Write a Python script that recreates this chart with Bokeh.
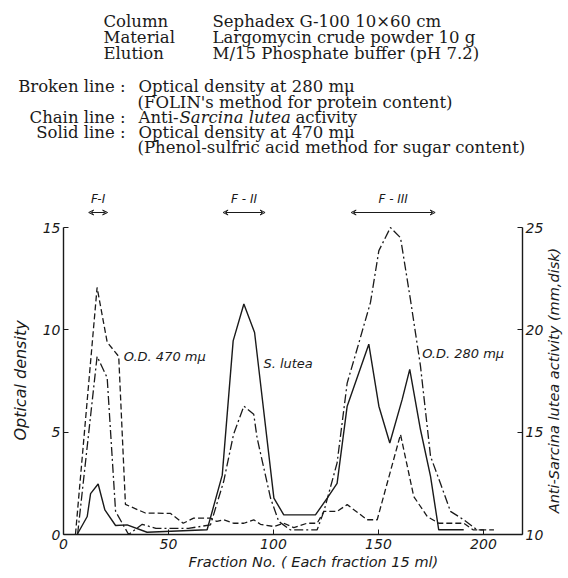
import math
from bokeh.plotting import figure
from bokeh.layouts import column, row
from bokeh.models import Range1d, LinearAxis, FixedTicker, Arrow, VeeHead, Title
from bokeh.core.properties import value
from bokeh.embed import file_html
from bokeh.resources import INLINE

# ---- data ----
# Broken line: optical density at 280 mu (left axis)
od280_x = [5.7, 16, 20.8, 26.3, 29.5, 39, 51, 57, 62, 70, 73, 76.3, 81, 85.9, 90.6, 93.8,
           100.2, 104.9, 109.7, 116, 120.8, 124, 130.3, 135.1, 144.6, 149.4, 160.5, 166.8,
           173.2, 178.7, 190.6, 195, 205]
od280_y = [0, 12.07, 9.4, 8.7, 1.47, 1.05, 1.03, 0.55, 0.8, 0.8, 0.64, 0.72, 0.55, 0.55, 0.72, 0.5,
           0.39, 0.55, 0.34, 0.55, 0.55, 1.13, 1.13, 1.46, 0.72, 0.72, 4.89, 1.86,
           0.88, 0.55, 0.55, 0.23, 0.23]

# Chain line: anti-Sarcina lutea activity, mm disk (right axis)
act_x = [6.7, 16, 20.8, 24.8, 31, 37.5, 44, 59.5, 70, 76.3, 81, 85.9, 90.6, 92.2, 98.6, 102.5,
         108, 120.8, 124, 130.3, 135.1, 139.8, 146.2, 150.2, 155.7, 160.5, 165.2, 170, 174.8,
         179.5, 184.3, 190.6, 197, 200]
act_mm = [10.0, 18.7, 17.66, 11.13, 10.0, 10.5, 10.3, 10.3, 10.47, 12.6, 14.9, 16.27, 15.87, 14.72,
          11.78, 10.64, 10.23, 10.23, 11.13, 13.5, 17.4, 19.05, 21.34, 23.87, 25.0, 24.5, 21.5,
          18.24, 13.82, 12.5, 11.13, 10.72, 10.23, 10.23]

# Solid line: optical density at 470 mu (left axis)
od470_x = [6.5, 11.3, 12.9, 16.5, 19.7, 24.8, 30.3, 39.8, 68.4, 75.6, 80.8, 85.9, 91, 100.2, 104.9,
           120, 125.6, 130.3, 135.1, 145.4, 150.2, 155.4, 161.3, 164.9, 170, 174.8, 178.7, 190.6]
od470_y = [0, 0.88, 2.0, 2.47, 1.2, 0.44, 0.47, 0.11, 0.23, 2.9, 9.46, 11.26, 9.87, 1.78, 0.96,
           0.96, 1.78, 2.5, 6.27, 9.3, 6.27, 4.47, 6.6, 8.07, 5.13, 2.84, 0.23, 0.23]

# fractions pooled
frac_names = ["F-I", "F - II", "F - III"]
frac_start = [12, 76, 137]
frac_end = [21, 96, 177]

x_ticks = [0, 50, 100, 150, 200]
od_ticks = [0, 5, 10, 15]
act_ticks = [10, 15, 20, 25]

# ---- styles ----
INK = "#1a1a1a"
SERIF = "DejaVu Serif"
SANS = "DejaVu Sans"
HFS = "16.5px"

def bare(fig):
    fig.axis.visible = False
    fig.grid.visible = False
    fig.outline_line_color = None
    fig.background_fill_color = "white"
    fig.border_fill_color = "white"

# ---------- header ----------
hdr = figure(width=568, height=178, x_range=Range1d(0, 568), y_range=Range1d(178, 0),
             min_border=0, output_backend="svg", toolbar_location=None)
bare(hdr)

def head(text, px, py, align="left", style="normal"):
    hdr.text(x=[px], y=[py], text=[text], text_font=value(SERIF),
             text_font_size=HFS, text_font_style=style, text_color=INK,
             text_align=align, text_baseline="middle")

head("Column", 103, 21)
head("Sephadex G-100 10\u00d760 cm", 212, 21)
head("Material", 103, 37)
head("Largomycin crude powder 10 g", 212, 37)
head("Elution", 103, 53)
head("M/15 Phosphate buffer (pH 7.2)", 212, 53)
head("Broken line :", 125, 86, align="right")
head("Optical density at 280 m\u03bc", 138, 86)
head("(FOLIN's method for protein content)", 137, 102)
head("Chain line :", 125, 117, align="right")
head("Anti-", 138, 117)
head("Sarcina lutea", 179, 117, style="italic")
head("activity", 295, 117)
head("Solid line :", 125, 132, align="right")
head("Optical density at 470 m\u03bc", 138, 132)
head("(Phenol-sulfric acid method for sugar content)", 137, 147)

# ---------- main chart ----------
xr = Range1d(0, 218.6)
p = figure(frame_width=459, frame_height=308,
           min_border_left=63, min_border_right=22, min_border_top=8, min_border_bottom=10,
           x_range=xr, y_range=Range1d(0, 15.05),
           output_backend="svg", toolbar_location=None)
p.extra_y_ranges = {"act": Range1d(10, 25.05)}
p.outline_line_color = None
p.grid.visible = False
p.background_fill_color = "white"
p.border_fill_color = "white"

p.line(od280_x, od280_y, line_color=INK, line_width=1.3, line_dash="6 3")
p.line(act_x, act_mm, y_range_name="act", line_color=INK, line_width=1.3, line_dash="9 3 2 3")
p.line(od470_x, od470_y, line_color=INK, line_width=1.4)

def style_axis(ax):
    ax.axis_line_color = INK
    ax.axis_line_width = 1.4
    ax.major_tick_line_color = INK
    ax.major_tick_in = 5
    ax.major_tick_out = 0
    ax.minor_tick_line_color = None
    ax.major_label_text_font = SANS
    ax.major_label_text_font_style = "italic"
    ax.major_label_text_font_size = "14px"
    ax.major_label_text_color = INK
    ax.major_label_standoff = 3

xa = p.xaxis[0]
xa.ticker = FixedTicker(ticks=x_ticks)
style_axis(xa)
xa.major_label_standoff = 4

ya = p.yaxis[0]
ya.ticker = FixedTicker(ticks=od_ticks)
ya.bounds = (0, 15)
style_axis(ya)
ya.axis_label = "Optical density"
ya.axis_label_text_font = SANS
ya.axis_label_text_font_style = "italic"
ya.axis_label_text_font_size = "16px"
ya.axis_label_text_color = INK
ya.axis_label_standoff = 10

ra = LinearAxis(y_range_name="act", ticker=FixedTicker(ticks=act_ticks), bounds=(10, 25))
style_axis(ra)
p.add_layout(ra, "right")

p.add_layout(Title(text="Fraction No. ( Each fraction 15 ml)", align="left", offset=125,
                   text_font=SANS, text_font_style="italic", text_font_size="14.5px",
                   text_color=INK, standoff=0), "below")

# curve annotations
def note(fig, text, x, y, size="13px", align="left"):
    fig.text(x=[x], y=[y], text=[text], text_font=value(SANS), text_font_style="italic",
             text_font_size=size, text_color=INK, text_align=align, text_baseline="middle")

note(p, "O.D. 470 m\u03bc", 28.7, 8.7)
note(p, "S. lutea", 95.2, 8.35)
note(p, "O.D. 280 m\u03bc", 170.8, 8.86)

# ---------- fraction band ----------
fb = figure(frame_width=459, frame_height=40, min_border_left=63, min_border_right=22,
            min_border_top=0, min_border_bottom=0, x_range=xr, y_range=Range1d(0, 40),
            output_backend="svg", toolbar_location=None)
bare(fb)
for name, a, b in zip(frac_names, frac_start, frac_end):
    note(fb, name, (a + b) / 2, 20, size="12px", align="center")
    fb.add_layout(Arrow(x_start=a, x_end=b, y_start=6, y_end=6,
                        start=VeeHead(size=5, line_color=INK, line_width=1, fill_color=None),
                        end=VeeHead(size=5, line_color=INK, line_width=1, fill_color=None),
                        line_color=INK, line_width=1))

# ---------- right axis title ----------
rl = figure(width=24, height=400, x_range=Range1d(0, 24), y_range=Range1d(0, 400),
            min_border=0, output_backend="svg", toolbar_location=None)
bare(rl)
rl.text(x=[7], y=[198], text=["Anti-Sarcina lutea activity (mm,disk)"], angle=math.pi / 2,
        text_font=value(SANS), text_font_style="italic", text_font_size="14.5px",
        text_color=INK, text_align="center", text_baseline="middle")

layout = column(hdr, row(column(fb, p), rl))
open("out.html", "w").write(file_html(layout, INLINE))
